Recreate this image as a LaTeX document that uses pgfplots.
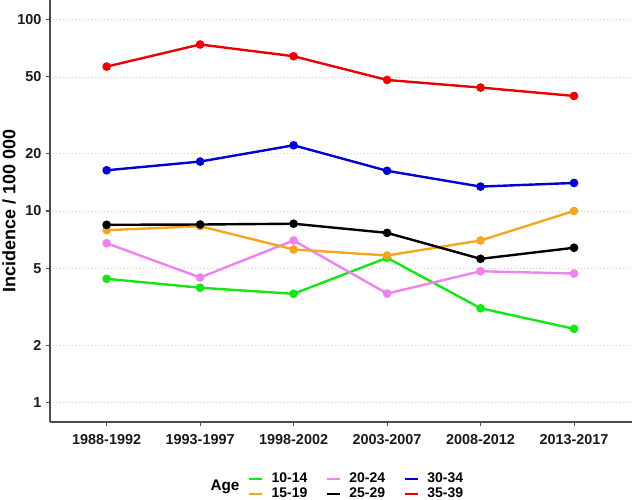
\documentclass[border=0pt]{standalone}
\usepackage{pgfplots}
\pgfplotsset{compat=1.18}
\usepackage{fontspec}
\setmainfont{Liberation Sans}
\definecolor{cgreen}{RGB}{20,230,20}
\definecolor{corange}{RGB}{245,165,30}
\definecolor{cviolet}{RGB}{238,130,238}
\definecolor{cblue}{RGB}{0,0,210}
\definecolor{cred}{RGB}{235,0,0}
\begin{document}
\begin{tikzpicture}
\begin{axis}[
  at={(0,0)}, anchor=south west,
  scale only axis,
  width=436.5pt, height=316.5pt,
  ymode=log, log basis y=10,
  xmin=-0.606, xmax=5.62,
  ymin=0.794, ymax=125.9,
  xtick={0,1,2,3,4,5},
  xticklabels={1988-1992,1993-1997,1998-2002,2003-2007,2008-2012,2013-2017},
  ytick={1,2,5,10,20,50,100},
  yticklabels={1,2,5,10,20,50,100},
  minor ytick={},
  /pgf/number format/assume math mode=true,
  tick label style={font=\bfseries\fontsize{10.8}{12}\selectfont, text=black!90},
  xticklabel style={yshift=-3pt},
  axis x line*=bottom, axis y line*=left,
  axis line style={black!70, line width=1pt, -},
  tick style={black!70, line width=0.8pt},
  tick align=outside, major tick length=3pt,
  ymajorgrids,
  major grid style={gray!40, dotted, line width=0.6pt},
  ylabel={Incidence / 100 000},
  ylabel style={font=\bfseries\fontsize{13.5}{15}\selectfont, at={(rel axis cs:-0.0705,0.5)}, anchor=center},
  clip=false,
  legend columns=3,
  legend cell align=left,
  legend style={at={(rel axis cs:0.340,-0.114)}, anchor=north west, draw=none, fill=none,
    font=\bfseries\fontsize{10.5}{11}\selectfont, inner sep=0pt,
    /tikz/every odd column/.append style={column sep=4pt},
    /tikz/every even column/.append style={column sep=12pt}, row sep=-1.5pt},
  legend image code/.code={\draw[line width=1.8pt] (0pt,0pt) -- (9.75pt,0pt);},
  every axis plot/.append style={line width=1.8pt, mark=*, mark size=2.3pt, mark options={solid}},
]
\addplot[cgreen, mark options={fill=cgreen, draw=cgreen}] coordinates {(0,4.43) (1,3.98) (2,3.70) (3,5.70) (4,3.11) (5,2.43)};
\addlegendentry{10-14}
\addplot[cviolet, mark options={fill=cviolet, draw=cviolet}] coordinates {(0,6.79) (1,4.50) (2,7.02) (3,3.71) (4,4.85) (5,4.72)};
\addlegendentry{20-24}
\addplot[cblue, mark options={fill=cblue, draw=cblue}] coordinates {(0,16.3) (1,18.1) (2,22.0) (3,16.2) (4,13.4) (5,14.0)};
\addlegendentry{30-34}
\addplot[corange, mark options={fill=corange, draw=corange}] coordinates {(0,7.94) (1,8.33) (2,6.30) (3,5.86) (4,7.02) (5,10.0)};
\addlegendentry{15-19}
\addplot[black, mark options={fill=black, draw=black}] coordinates {(0,8.47) (1,8.50) (2,8.58) (3,7.69) (4,5.63) (5,6.43)};
\addlegendentry{25-29}
\addplot[cred, mark options={fill=cred, draw=cred}] coordinates {(0,56.6) (1,73.8) (2,64.1) (3,48.2) (4,44.0) (5,39.8)};
\addlegendentry{35-39}
\node[font=\bfseries\fontsize{11.5}{13}\selectfont, anchor=center] at (rel axis cs:0.3007,-0.154) {Age};
\end{axis}
\pgfresetboundingbox
\path[use as bounding box] (-37.5pt,-58.5pt) rectangle (437.25pt,316.5pt);
\end{tikzpicture}
\end{document}
